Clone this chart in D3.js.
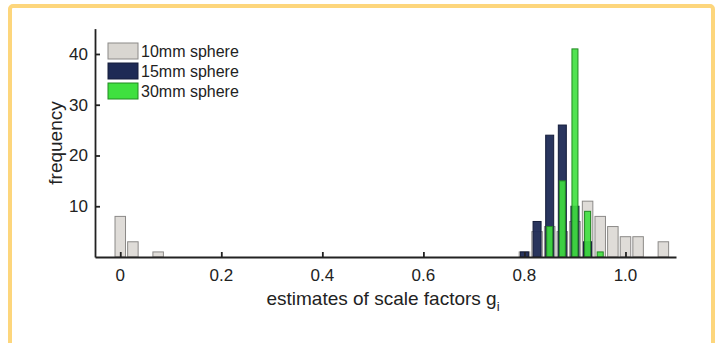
<!DOCTYPE html>
<html>
<head>
<meta charset="utf-8">
<script src="https://cdn.jsdelivr.net/npm/d3@7"></script>
<style>
    body { margin: 0; background: #fff; }
    svg text { font-family: "Liberation Sans", Arial, sans-serif; fill: #222; }
</style>
</head>
<body>
<div id="chart"></div>
<script>
// bin centres and counts
const bins10 = [0, 0.025, 0.075, 0.8, 0.825, 0.85, 0.875, 0.9, 0.925, 0.95, 0.975, 1.0, 1.025, 1.075];
const counts10 = [8, 3, 1, 1, 5, 6, 5, 7, 11, 8, 6, 4, 4, 3];

const bins15 = [0.8, 0.825, 0.85, 0.875, 0.9, 0.925];
const counts15 = [1, 7, 24, 26, 10, 3];

const bins30 = [0.85, 0.875, 0.9, 0.925, 0.95];
const counts30 = [6, 15, 41, 9, 1];

const xTicks = [0, 0.2, 0.4, 0.6, 0.8, 1.0];
const yTicks = [10, 20, 30, 40];

const seriesNames = ["10mm sphere", "15mm sphere", "30mm sphere"];
const seriesColors = ["#d9d6d1", "#1e2a55", "#3fe03f"];

const width = 717, height = 343;

const svg = d3.select("#chart")
    .append("svg")
    .attr("width", width)
    .attr("height", height);

// yellow frame
svg.append("rect")
    .attr("x", 10)
    .attr("y", 6)
    .attr("width", 703)
    .attr("height", 360)
    .attr("rx", 3)
    .attr("fill", "none")
    .attr("stroke", "#fdd67c")
    .attr("stroke-width", 4);

const x = d3.scaleLinear().domain([-0.05, 1.1]).range([95, 676]);
const y = d3.scaleLinear().domain([0, 45]).range([257, 28.6]);

// bars
const series = [
    { bins: bins10, counts: counts10, w: 10.5, color: seriesColors[0], stroke: "#8c8a88", op: 0.85 },
    { bins: bins15, counts: counts15, w: 8, color: seriesColors[1], stroke: "#141c3a", op: 0.95 },
    { bins: bins30, counts: counts30, w: 6, color: seriesColors[2], stroke: "#238a23", op: 0.9 }
];

series.forEach(s => {
    const data = s.bins.map((b, i) => ({ b: b, c: s.counts[i] }));
    svg.append("g")
        .selectAll("rect")
        .data(data)
        .enter()
        .append("rect")
        .attr("x", d => x(d.b) - s.w / 2)
        .attr("y", d => y(d.c))
        .attr("width", s.w)
        .attr("height", d => y(0) - y(d.c))
        .attr("fill", s.color)
        .attr("fill-opacity", s.op)
        .attr("stroke", s.stroke)
        .attr("stroke-width", 1);
});

// axes, ticks pointing inward
const xAxis = svg.append("g")
    .attr("transform", `translate(0,${y(0)})`)
    .call(d3.axisTop(x).tickValues(xTicks).tickSize(5).tickSizeOuter(0).tickFormat(""));
const yAxis = svg.append("g")
    .attr("transform", `translate(${x(-0.05)},0)`)
    .call(d3.axisRight(y).tickValues(yTicks).tickSize(5).tickSizeOuter(0).tickFormat(""));

[xAxis, yAxis].forEach(a => {
    a.select(".domain").attr("stroke", "#222").attr("stroke-width", 1.8);
    a.selectAll(".tick line").attr("stroke", "#222").attr("stroke-width", 1.8);
});

// tick labels
svg.append("g")
    .selectAll("text")
    .data(xTicks)
    .enter()
    .append("text")
    .attr("x", d => x(d))
    .attr("y", 281)
    .attr("text-anchor", "middle")
    .attr("font-size", 17)
    .text(d => d === 0 ? "0" : d.toFixed(1));

svg.append("g")
    .selectAll("text")
    .data(yTicks)
    .enter()
    .append("text")
    .attr("x", 88)
    .attr("y", d => y(d) + 6)
    .attr("text-anchor", "end")
    .attr("font-size", 17)
    .text(d => d);

// axis titles
const xLabel = svg.append("text")
    .attr("x", 383)
    .attr("y", 305)
    .attr("text-anchor", "middle")
    .attr("font-size", 19);
xLabel.append("tspan").text("estimates of scale factors g");
xLabel.append("tspan").attr("dy", 6).attr("font-size", 13).text("i");

svg.append("text")
    .attr("transform", "translate(62,143) rotate(-90)")
    .attr("text-anchor", "middle")
    .attr("font-size", 19)
    .text("frequency");

// legend
const legend = svg.append("g");
seriesNames.forEach((name, i) => {
    legend.append("rect")
        .attr("x", 108)
        .attr("y", 43 + i * 20)
        .attr("width", 30)
        .attr("height", 16)
        .attr("fill", seriesColors[i])
        .attr("stroke", series[i].stroke)
        .attr("stroke-width", 1);
    legend.append("text")
        .attr("x", 141)
        .attr("y", 57 + i * 20)
        .attr("font-size", 16)
        .text(name);
});
</script>
</body>
</html>
